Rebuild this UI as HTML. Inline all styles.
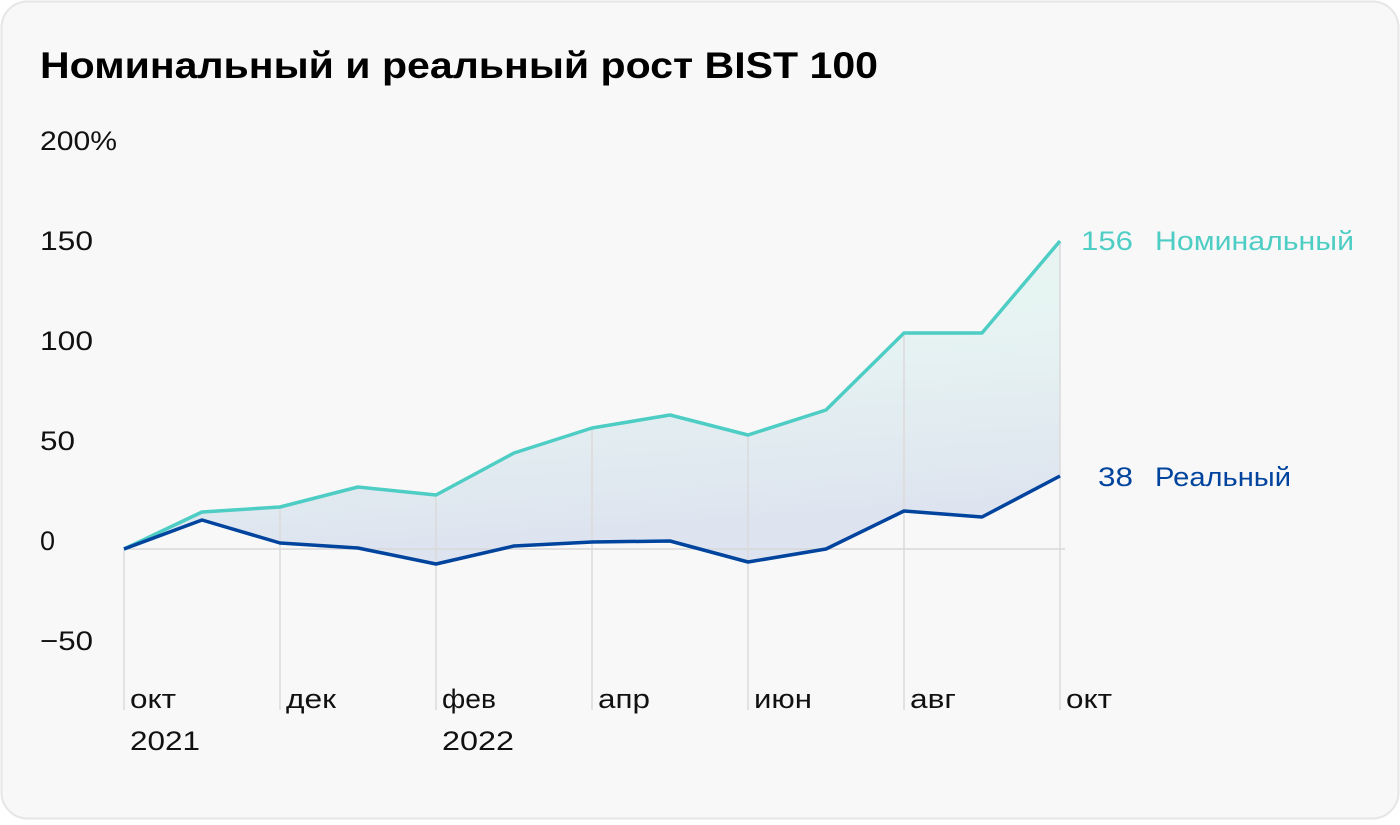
<!DOCTYPE html>
<html><head><meta charset="utf-8"><style>
html,body{margin:0;padding:0;background:#fff;}
body{width:1400px;height:820px;overflow:hidden;}
</style></head><body>
<svg width="1400" height="820" viewBox="0 0 1400 820" xmlns="http://www.w3.org/2000/svg" font-family="Liberation Sans, sans-serif">
<defs>
<linearGradient id="g" x1="0" y1="0" x2="0.2" y2="1">
<stop offset="0" stop-color="#e8f6f3"/>
<stop offset="0.45" stop-color="#e6f3f2"/>
<stop offset="1" stop-color="#dde3ef"/>
</linearGradient>
</defs>
<rect x="1.5" y="1.5" width="1397" height="817" rx="26" fill="#f8f8f8" stroke="#e6e6e6" stroke-width="2"/>
<text x="40" y="78" font-size="37" font-weight="bold" fill="#000" textLength="838" lengthAdjust="spacingAndGlyphs">Номинальный и реальный рост BIST 100</text>
<g font-size="27" fill="#111">
<text x="40" y="150" textLength="77" lengthAdjust="spacingAndGlyphs">200%</text>
<text x="40" y="250" textLength="53" lengthAdjust="spacingAndGlyphs">150</text>
<text x="40" y="350" textLength="53" lengthAdjust="spacingAndGlyphs">100</text>
<text x="40" y="450" textLength="35" lengthAdjust="spacingAndGlyphs">50</text>
<text x="40" y="550">0</text>
<text x="40" y="650" textLength="53" lengthAdjust="spacingAndGlyphs">−50</text>
</g>
<polygon fill="url(#g)" points="124,549 202,512 280,507 358,487 436,495 514,453 592,428 670,415 748,435 826,410 904,333 982,333 1060,241 1060,476 982,517 904,511 826,549 748,562 670,541 592,542 514,546 436,564 358,548 280,543 202,520"/>
<line x1="124" y1="549" x2="1065" y2="549" stroke="#d8d8d8" stroke-width="1.5"/>
<g stroke="#dadada" stroke-width="1.5">
<line x1="124" y1="549" x2="124" y2="710"/>
<line x1="280" y1="507" x2="280" y2="710"/>
<line x1="436" y1="495" x2="436" y2="710"/>
<line x1="592" y1="428" x2="592" y2="710"/>
<line x1="748" y1="435" x2="748" y2="710"/>
<line x1="904" y1="333" x2="904" y2="710"/>
<line x1="1060" y1="241" x2="1060" y2="710"/>
</g>
<polyline fill="none" stroke="#4ecdc4" stroke-width="3.5" stroke-linejoin="round" points="124,549 202,512 280,507 358,487 436,495 514,453 592,428 670,415 748,435 826,410 904,333 982,333 1060,241"/>
<polyline fill="none" stroke="#00449e" stroke-width="3.5" stroke-linejoin="round" points="124,549 202,520 280,543 358,548 436,564 514,546 592,542 670,541 748,562 826,549 904,511 982,517 1060,476"/>
<g font-size="27" fill="#111">
<text x="130" y="708" textLength="46" lengthAdjust="spacingAndGlyphs">окт</text>
<text x="130" y="750" textLength="70" lengthAdjust="spacingAndGlyphs">2021</text>
<text x="286" y="708" textLength="50" lengthAdjust="spacingAndGlyphs">дек</text>
<text x="442" y="708" textLength="54" lengthAdjust="spacingAndGlyphs">фев</text>
<text x="442" y="750" textLength="72" lengthAdjust="spacingAndGlyphs">2022</text>
<text x="598" y="708" textLength="52" lengthAdjust="spacingAndGlyphs">апр</text>
<text x="754" y="708" textLength="58" lengthAdjust="spacingAndGlyphs">июн</text>
<text x="910" y="708" textLength="46" lengthAdjust="spacingAndGlyphs">авг</text>
<text x="1066" y="708" textLength="46" lengthAdjust="spacingAndGlyphs">окт</text>
</g>
<g font-size="27">
<text x="1081" y="250" fill="#4ecdc4" textLength="52" lengthAdjust="spacingAndGlyphs">156</text>
<text x="1155" y="250" fill="#4ecdc4" textLength="199" lengthAdjust="spacingAndGlyphs">Номинальный</text>
<text x="1098" y="486" fill="#00449e" textLength="35" lengthAdjust="spacingAndGlyphs">38</text>
<text x="1155" y="486" fill="#00449e" textLength="136" lengthAdjust="spacingAndGlyphs">Реальный</text>
</g>
</svg>
</body></html>
